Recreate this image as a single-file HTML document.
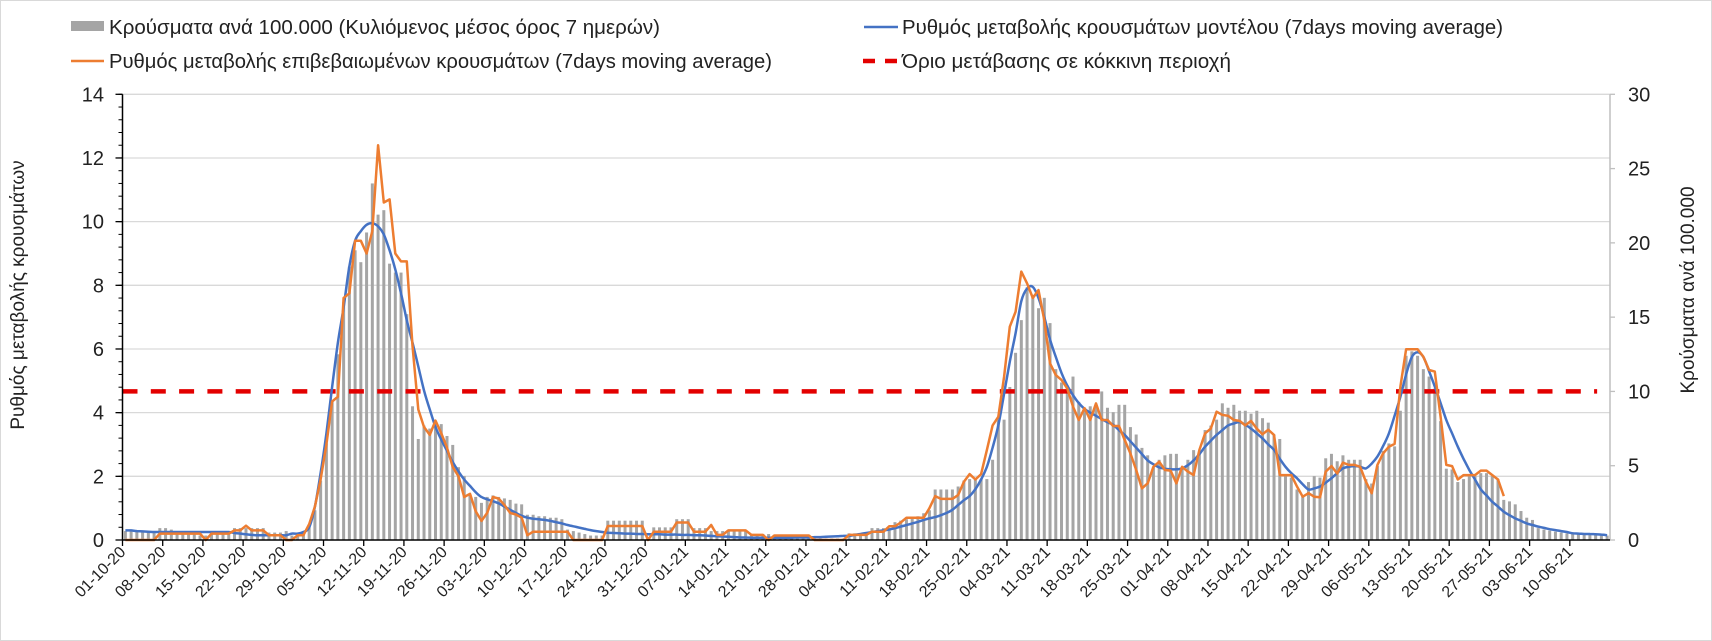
<!DOCTYPE html>
<html><head><meta charset="utf-8"><style>
html,body{margin:0;padding:0;background:#fff;}
svg{display:block;font-family:"Liberation Sans","DejaVu Sans",sans-serif;}
</style></head><body>
<svg id="chart" width="1712" height="641" viewBox="0 0 1712 641" xmlns="http://www.w3.org/2000/svg">
<rect x="0.5" y="0.5" width="1711" height="640" fill="#fff" stroke="#d9d9d9"/>
<g id="grid"></g>
<g id="bars"></g>
<g id="lines"></g>
<g id="axes"></g>
<g>
  <g>
    <rect x="71" y="21" width="33" height="10" fill="#a5a5a5"/>
    <text x="109" y="34" font-size="20" fill="#222" textLength="551" lengthAdjust="spacingAndGlyphs">Κρούσματα ανά 100.000 (Κυλιόμενος μέσος όρος 7 ημερών)</text>
  </g>
  <g>
    <line x1="71" y1="61" x2="104" y2="61" stroke="#ed7d31" stroke-width="2.5"/>
    <text x="109" y="68" font-size="20" fill="#222" textLength="663" lengthAdjust="spacingAndGlyphs">Ρυθμός μεταβολής επιβεβαιωμένων κρουσμάτων (7days moving average)</text>
  </g>
  <g>
    <line x1="864" y1="27" x2="898" y2="27" stroke="#4472c4" stroke-width="2.5"/>
    <text x="902" y="34" font-size="20" fill="#222" textLength="601" lengthAdjust="spacingAndGlyphs">Ρυθμός μεταβολής κρουσμάτων μοντέλου (7days moving average)</text>
  </g>
  <g>
    <line x1="863" y1="61" x2="900" y2="61" stroke="#e30000" stroke-width="4.5" stroke-dasharray="12,10"/>
    <text x="902" y="68" font-size="20" fill="#222" textLength="329" lengthAdjust="spacingAndGlyphs">Όριο μετάβασης σε κόκκινη περιοχή</text>
  </g>
</g>
<text transform="translate(24,295) rotate(-90)" text-anchor="middle" font-size="19" fill="#222">Ρυθμός μεταβολής κρουσμάτων</text>
<text transform="translate(1694,290) rotate(-90)" text-anchor="middle" font-size="19" fill="#222">Κρούσματα ανά 100.000</text>
</svg>
<script>
const categoryCount = 259;
const xTickLabels = ["01-10-20","08-10-20","15-10-20","22-10-20","29-10-20","05-11-20","12-11-20","19-11-20","26-11-20","03-12-20","10-12-20","17-12-20","24-12-20","31-12-20","07-01-21","14-01-21","21-01-21","28-01-21","04-02-21","11-02-21","18-02-21","25-02-21","04-03-21","11-03-21","18-03-21","25-03-21","01-04-21","08-04-21","15-04-21","22-04-21","29-04-21","06-05-21","13-05-21","20-05-21","27-05-21","03-06-21","10-06-21"];
const leftTicks = [0,2,4,6,8,10,12,14];
const rightTicks = [0,5,10,15,20,25,30];
const redThreshold = 10;
const casesPer100k = [0.6,0.6,0.6,0.6,0.6,0.6,0.8,0.8,0.7,0.6,0.6,0.6,0.6,0.3,0.3,0.6,0.6,0.6,0.6,0.8,0.8,0.8,0.8,0.8,0.8,0.5,0.5,0.5,0.6,0.3,0.3,0.5,
0.9,2.0,4.0,6.5,9.4,12.5,16.0,18.4,19.5,18.7,20.7,24.0,21.9,22.2,18.6,18.0,18.0,15.2,
9.0,6.8,7.7,7.5,7.7,7.8,7.0,6.4,4.9,4.3,3.1,2.9,2.5,2.9,3.0,2.9,2.8,2.7,2.45,2.4,
1.7,1.7,1.6,1.6,1.5,1.5,1.4,0.7,0.6,0.5,0.4,0.3,0.3,0.3,
1.3,1.3,1.3,1.3,1.3,1.3,1.3,0.2,0.85,0.85,0.85,0.85,1.4,1.4,1.4,0.8,0.8,0.8,
0.6,0.6,0.6,0.6,0.6,0.6,0.6,0.4,0.4,0.4,0.4,0.35,0.35,0.35,0.35,0.35,0.35,0.35,
0.1,0.1,0.1,0.1,0.1,0.1,0.45,0.45,0.45,0.45,0.8,0.8,0.8,0.8,
1.2,1.3,1.4,1.5,1.6,1.8,2.0,3.4,3.4,3.4,3.4,3.6,4.0,4.1,4.1,4.1,4.1,
5.4,8.1,8.1,10.3,12.6,14.8,17.0,16.5,15.6,16.3,14.6,11.5,10.6,10.4,11.0,9.3,8.9,9.0,9.0,10.0,
8.9,8.6,9.1,9.1,7.6,7.1,6.2,5.7,4.9,5.4,5.7,5.8,5.8,4.9,5.4,6.05,5.8,7.4,7.7,8.1,
9.2,8.9,9.1,8.7,8.7,8.5,8.7,8.2,7.9,7.1,6.8,
4.4,4.2,3.4,3.0,3.9,4.3,4.2,5.5,5.8,5.3,5.7,5.4,5.4,5.4,4.1,3.8,5.0,6.0,6.5,6.3,
8.7,12.4,12.7,12.4,11.5,11.0,10.2,8.0,4.8,4.75,3.9,4.1,4.3,4.3,4.5,4.5,4.3,4.1,2.7,2.6,
2.4,1.95,1.5,1.35,0.8,0.7,0.63,0.56,0.5,0.45,0.45,0.4,0.4,0.36,0.36,0.3,0.3];
const confirmedRate = [0,0,0,0,0,0,0.2,0.2,0.2,0.2,0.2,0.2,0.2,0.2,0,0.2,0.2,0.2,0.2,0.3,0.3,0.45,0.3,0.3,0.3,0.15,0.15,0.15,0,0,0.15,0.15,
0.5,1.05,1.9,3.0,4.35,4.5,7.6,7.75,9.4,9.4,9.0,9.7,12.4,10.6,10.7,9.0,8.75,8.75,6.1,4.1,
3.55,3.3,3.75,3.35,2.9,2.3,2.0,1.35,1.45,0.9,0.6,0.85,1.35,1.3,1.1,
0.85,0.8,0.7,0.15,0.26,0.26,0.26,0.26,0.26,0.26,0.26,0,0,0,0,0,0,
0.44,0.44,0.44,0.44,0.44,0.44,0.44,0,0.26,0.26,0.26,0.26,0.55,0.55,0.55,0.26,0.26,0.26,
0.47,0.16,0.16,0.3,0.3,0.3,0.3,0.16,0.16,0.16,0,0.14,0.14,0.14,0.14,0.14,0.14,0.14,
0,0,0,0,0,0,0.16,0.16,0.16,0.16,0.26,0.26,0.26,0.43,0.43,0.55,0.7,0.7,0.7,0.7,
1.0,1.38,1.29,1.29,1.29,
1.41,1.83,2.07,1.9,2.07,2.83,3.6,3.87,5.13,6.7,7.17,8.43,8.06,7.6,7.85,6.9,5.55,5.18,5.03,4.76,
4.19,3.77,4.14,3.77,4.29,3.77,3.77,3.58,3.58,3.14,2.72,2.2,1.62,1.78,2.3,2.46,2.2,2.18,1.78,2.3,
2.15,2.04,2.83,3.35,3.5,4.03,3.93,3.9,3.77,3.74,3.6,3.74,3.5,3.32,3.46,3.3,
2.04,2.04,2.04,1.68,1.36,1.47,1.36,1.34,2.15,2.32,2.09,2.43,2.36,2.36,2.3,1.83,1.47,2.36,2.72,2.93,
3.02,4.82,5.99,5.99,5.99,5.76,5.34,5.29,3.87,2.36,2.32,1.9,2.04,2.04,2.04,2.18,2.18,2.04,1.9,1.38];
const modelRate = [0.3,0.3,0.28,0.27,0.26,0.25,0.25,0.25,0.25,0.25,0.25,0.25,0.25,0.25,0.25,0.25,0.25,0.25,0.25,0.22,0.2,0.18,0.16,0.15,0.15,0.15,0.15,0.15,0.15,0.2,0.2,0.25,
0.4,1.05,2.1,3.35,4.8,6.2,7.3,8.6,9.4,9.7,9.9,9.95,9.85,9.6,9.1,8.5,7.75,6.9,6.2,5.45,
4.7,4.1,3.55,3.15,2.8,2.45,2.15,1.9,1.7,1.5,1.35,1.28,1.22,
1.15,1.05,0.95,0.85,0.76,0.7,0.67,0.65,0.63,0.6,0.56,0.52,0.47,0.43,0.39,0.35,0.31,0.28,0.25,0.23,
0.22,0.21,0.2,0.2,0.19,0.19,0.18,0.18,0.18,0.17,0.17,0.17,0.16,0.16,0.15,0.15,0.14,0.13,0.12,0.11,
0.1,0.09,0.08,0.08,0.07,0.07,0.07,0.07,0.07,0.07,0.07,0.07,0.08,0.08,0.08,0.09,0.09,0.1,0.11,0.12,0.13,0.13,
0.16,0.19,0.22,0.25,0.28,0.3,0.33,0.37,0.42,0.47,
0.52,0.57,0.63,0.68,0.72,0.78,0.85,0.95,1.1,1.25,
1.38,1.6,1.9,2.3,2.9,3.6,4.6,5.6,6.5,7.5,
7.9,7.95,7.6,7.0,6.3,5.75,5.25,4.85,4.55,4.3,
4.12,4.0,3.9,3.8,3.7,3.62,3.45,3.3,3.1,2.9,
2.7,2.5,2.38,2.28,2.24,2.22,2.22,2.25,2.35,2.5,
2.7,2.93,3.12,3.3,3.45,3.6,3.66,3.7,3.62,3.5,
3.35,3.19,3.0,2.83,2.55,2.3,2.1,1.94,1.75,1.59,
1.62,1.68,1.8,1.94,2.1,2.25,2.3,2.32,2.3,2.25,
2.4,2.62,2.95,3.35,3.9,4.5,5.2,5.75,5.9,5.75,
5.3,4.82,4.3,3.77,3.35,2.93,2.55,2.2,1.9,1.59,
1.4,1.2,1.05,0.89,0.78,0.68,0.6,0.52,0.47,0.42,
0.38,0.34,0.31,0.28,0.25,0.21,0.2,0.19,0.19,0.18,
0.17,0.15];

const NS = "http://www.w3.org/2000/svg";
const L = 122.5, R = 1610, T = 94.3, B = 540;
const step = (R - L) / categoryCount;
const xPos = i => L + (i + 0.5) * step;
const yLeft = v => B - v / 14 * (B - T);
const yRight = v => B - v / 30 * (B - T);
function mk(tag, parent, attrs) {
  const e = document.createElementNS(NS, tag);
  for (const k in attrs) e.setAttribute(k, attrs[k]);
  parent.appendChild(e);
  return e;
}
const grid = document.getElementById('grid');
const axes = document.getElementById('axes');
const barsG = document.getElementById('bars');
const linesG = document.getElementById('lines');

leftTicks.forEach(v => {
  if (v > 0) {
    const g = mk('line', grid, {x1: L, x2: R, y1: yLeft(v), y2: yLeft(v), stroke: '#d9d9d9', 'stroke-width': 1.3});
    
    
  }
  const t = mk('text', axes, {x: 104, y: yLeft(v) + 7, 'text-anchor': 'end', 'font-size': 20, fill: '#222'});
  t.textContent = v;
  
  
  mk('line', axes, {x1: L - 7, x2: L, y1: yLeft(v), y2: yLeft(v), stroke: '#000', 'stroke-width': 1.3});
});
for (let k = 0; k <= 35; k++) {
  const y = yLeft(k * 0.4);
  mk('line', axes, {x1: L - 4, x2: L, y1: y, y2: y, stroke: '#000', 'stroke-width': 1});
}
rightTicks.forEach(v => {
  const t = mk('text', axes, {x: 1628, y: yRight(v) + 7, 'font-size': 20, fill: '#222'});
  t.textContent = v;
  
  
  mk('line', axes, {x1: R, x2: R + 5, y1: yRight(v), y2: yRight(v), stroke: '#bfbfbf', 'stroke-width': 1.3});
});

casesPer100k.forEach((v, i) => {
  const y = yRight(v);
  const r = mk('rect', barsG, {x: xPos(i) - 1.5, y: y, width: 3, height: B - y, fill: '#a5a5a5'});
  
  
});

const thr = mk('line', linesG, {x1: L, x2: xPos(categoryCount - 1) - 10, y1: yRight(redThreshold), y2: yRight(redThreshold), stroke: '#e30000', 'stroke-width': 4.5, 'stroke-dasharray': '15,13.3'});



function smoothPath(pts) {
  let d = 'M' + pts[0][0].toFixed(1) + ',' + pts[0][1].toFixed(1);
  for (let i = 0; i < pts.length - 1; i++) {
    const p0 = pts[i - 1] || pts[i], p1 = pts[i], p2 = pts[i + 1], p3 = pts[i + 2] || p2;
    const c1 = [p1[0] + (p2[0] - p0[0]) / 6, p1[1] + (p2[1] - p0[1]) / 6];
    const c2 = [p2[0] - (p3[0] - p1[0]) / 6, p2[1] - (p3[1] - p1[1]) / 6];
    d += 'C' + c1[0].toFixed(1) + ',' + c1[1].toFixed(1) + ' ' + c2[0].toFixed(1) + ',' + c2[1].toFixed(1) + ' ' + p2[0].toFixed(1) + ',' + p2[1].toFixed(1);
  }
  return d;
}
const bluePts = modelRate.map((v, i) => [xPos(i), yLeft(v)]);
const blue = mk('path', linesG, {d: smoothPath(bluePts), fill: 'none', stroke: '#4472c4', 'stroke-width': 2.5});


const orangePts = confirmedRate.map((v, i) => xPos(i).toFixed(1) + ',' + yLeft(v).toFixed(1)).join(' ');
const orange = mk('polyline', linesG, {points: orangePts, fill: 'none', stroke: '#ed7d31', 'stroke-width': 2.5, 'stroke-linejoin': 'round'});



mk('line', axes, {x1: L, x2: L, y1: T, y2: B, stroke: '#000', 'stroke-width': 1.5});
mk('line', axes, {x1: R, x2: R, y1: T, y2: B, stroke: '#bfbfbf', 'stroke-width': 1.5});
mk('line', axes, {x1: L, x2: R, y1: B, y2: B, stroke: '#000', 'stroke-width': 1.5});
xTickLabels.forEach((lab, k) => {
  const x = L + k * 7 * step;
  mk('line', axes, {x1: x, x2: x, y1: B, y2: B + 6, stroke: '#000', 'stroke-width': 1.3});
  const t = mk('text', axes, {x: x + 4, y: B + 13, 'text-anchor': 'end', 'font-size': 16, fill: '#222', transform: 'rotate(-45 ' + (x + 4) + ' ' + (B + 13) + ')'});
  t.textContent = lab;
  
  
});
</script>
</body></html>
